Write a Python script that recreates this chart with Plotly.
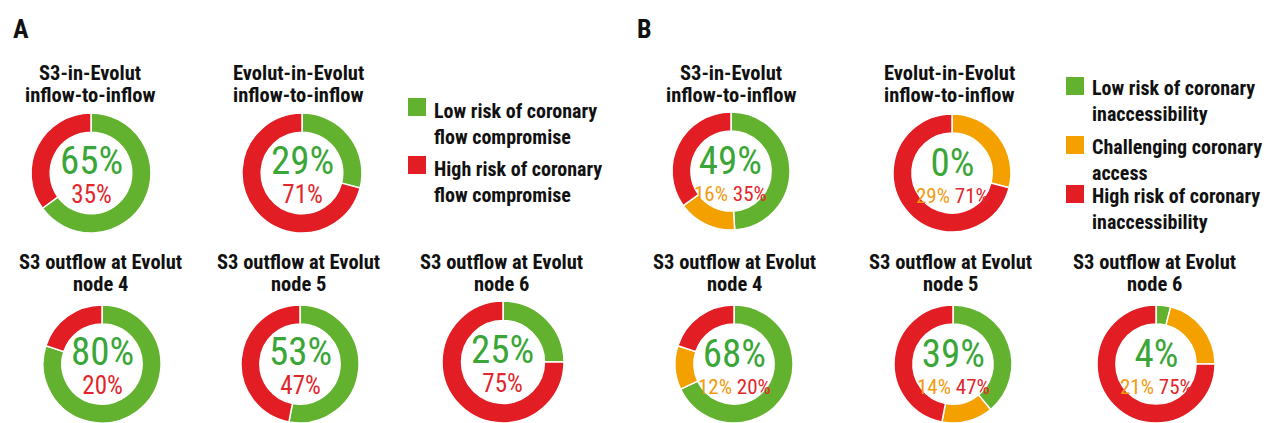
import plotly.graph_objects as go

W, H = 1266, 423

# ---- data ----
a_title1 = ["S3-in-Evolut", "Evolut-in-Evolut", "S3 outflow at Evolut", "S3 outflow at Evolut", "S3 outflow at Evolut"]
a_title2 = ["inflow-to-inflow", "inflow-to-inflow", "node 4", "node 5", "node 6"]
a_low = [65, 29, 80, 53, 25]
a_high = [35, 71, 20, 47, 75]

b_title1 = ["S3-in-Evolut", "Evolut-in-Evolut", "S3 outflow at Evolut", "S3 outflow at Evolut", "S3 outflow at Evolut"]
b_title2 = ["inflow-to-inflow", "inflow-to-inflow", "node 4", "node 5", "node 6"]
b_low = [49, 0, 68, 39, 4]
b_chal = [16, 29, 12, 14, 21]
b_high = [35, 71, 20, 47, 75]

a_legend = ["Low risk of coronary<br>flow compromise", "High risk of coronary<br>flow compromise"]
b_legend = ["Low risk of coronary<br>inaccessibility", "Challenging coronary<br>access", "High risk of coronary<br>inaccessibility"]

# ---- style / layout (pixels) ----
GREEN, ORANGE, RED = "#62b22f", "#f4a100", "#e21d24"
GREEN_T, ORANGE_T, RED_T = "#3aa637", "#f39a0e", "#e2262b"
FONT = "Roboto Condensed, Liberation Sans Narrow, DejaVu Sans Condensed, sans-serif"

a_pos = [(91, 173, 60), (302, 173, 60), (102, 364, 59), (300, 364, 59), (503, 362, 61)]
a_tpos = [(90, 173), (298, 173), (100, 364), (298, 364), (501, 364)]
b_pos = [(731, 171, 59), (952, 173, 59), (734, 364, 59), (953, 364, 59), (1156, 364, 59)]
b_tpos = [(731, 171), (949, 171), (734, 364), (950, 364), (1154, 364)]

fig = go.Figure()
ann = []


def dom(cx, cy, r):
    return dict(x=[(cx - r) / W, (cx + r) / W], y=[max(0, 1 - (cy + r) / H), min(1, 1 - (cy - r) / H)])


def add_text(px, py, text, size, color="#111", bold=False, xanchor="center"):
    ann.append(dict(x=px / W, y=1 - py / H, xref="paper", yref="paper", text=text, showarrow=False,
                    xanchor=xanchor, yanchor="middle", borderpad=0,
                    font=dict(family=FONT, size=size, color=color, weight="bold" if bold else "normal")))


def title(tx, top_row, l1, l2):
    y1 = 73 if top_row else 262
    add_text(tx, y1, l1, 20.5, bold=True)
    add_text(tx, y1 + 22, l2, 20.5, bold=True)


def center_label(cx, cy, big, small_html, base, dy):
    txt = f"<span style='font-size:39px;color:{GREEN_T}'>{big}%</span><br>{small_html}"
    add_text(cx, cy + dy, txt, base, RED_T)


for i in range(5):
    cx, cy, r = a_pos[i]
    fig.add_trace(go.Pie(values=[a_low[i], a_high[i]], labels=["Low", "High"], sort=False, direction="clockwise",
                         hole=0.68, textinfo="none", hoverinfo="skip", showlegend=False,
                         marker=dict(colors=[GREEN, RED], line=dict(color="white", width=1.5)),
                         domain=dom(cx, cy, r)))
    title(a_tpos[i][0], i < 2, a_title1[i], a_title2[i])
    center_label(cx, cy, a_low[i], f"<span style='font-size:25px'>{a_high[i]}%</span>", 22.5, 0)

for i in range(5):
    cx, cy, r = b_pos[i]
    fig.add_trace(go.Pie(values=[b_low[i], b_chal[i], b_high[i]], labels=["Low", "Chal", "High"], sort=False,
                         direction="clockwise", hole=0.68, textinfo="none", hoverinfo="skip", showlegend=False,
                         marker=dict(colors=[GREEN, ORANGE, RED], line=dict(color="white", width=1.5)),
                         domain=dom(cx, cy, r)))
    title(b_tpos[i][0], i < 2, b_title1[i], b_title2[i])
    small = (f"<span style='color:{ORANGE_T};font-size:21px'>{b_chal[i]}%</span> "
             f"<span style='color:{RED_T};font-size:21px'>{b_high[i]}%</span>")
    center_label(cx, cy, b_low[i], small, 21, 1)

# panel labels
add_text(12, 29, "A", 26, bold=True, xanchor="left")
add_text(636, 29, "B", 26, bold=True, xanchor="left")

# legends
shapes = []


def legend_item(x0, y0, color, text, ty):
    shapes.append(dict(type="rect", xref="paper", yref="paper", x0=x0 / W, x1=(x0 + 18) / W,
                       y0=1 - (y0 + 18) / H, y1=1 - y0 / H, fillcolor=color, line=dict(width=0)))
    ann.append(dict(x=(x0 + 25) / W, y=1 - ty / H, xref="paper", yref="paper", text=text, showarrow=False,
                    xanchor="left", yanchor="top", align="left", borderpad=0,
                    font=dict(family=FONT, size=20, color="#111", weight="bold")))


legend_item(408, 98, GREEN, a_legend[0], 98)
legend_item(408, 156, RED, a_legend[1], 156)
legend_item(1066, 77, GREEN, b_legend[0], 75)
legend_item(1066, 136, ORANGE, b_legend[1], 134)
legend_item(1066, 185, RED, b_legend[2], 183)

fig.update_layout(width=W, height=H, margin=dict(l=0, r=0, t=0, b=0), paper_bgcolor="white",
                  plot_bgcolor="white", annotations=ann, shapes=shapes, showlegend=False)
fig.write_html("out.html", config={"displayModeBar": False},
               post_script="document.body.style.margin='0';document.body.style.overflow='hidden';")
